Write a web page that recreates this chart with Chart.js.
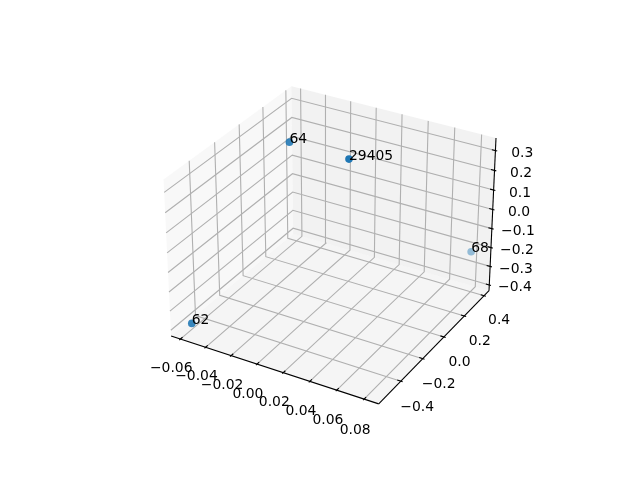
<!DOCTYPE html>
<html lang="en">
<head>
    <meta charset="UTF-8">
    <title>3D scatter</title>
    <script src="https://cdn.jsdelivr.net/npm/chart.js"></script>
    <style>
        html, body { margin: 0; padding: 0; background: #fff; }
        canvas { display: block; }
    </style>
</head>
<body>
    <canvas id="scatter3d" width="640" height="480"></canvas>
    <script>
        const pointLabels = ['62', '64', '29405', '68'];
        const pointX = [-0.0573, -0.0311, 0.0097, 0.0805];
        const pointY = [-0.528, 0.033, 0.0893, 0.384];
        const pointZ = [-0.38, 0.3206, 0.2811, -0.2076];

        const xTicks = [-0.06, -0.04, -0.02, 0.00, 0.02, 0.04, 0.06, 0.08];
        const yTicks = [-0.4, -0.2, 0.0, 0.2, 0.4];
        const zTicks = [-0.4, -0.3, -0.2, -0.1, 0.0, 0.1, 0.2, 0.3];
        const xDigits = 2, yDigits = 1, zDigits = 1;

        const xLimits = [-0.0674, 0.0906];
        const yLimits = [-0.595, 0.45];
        const zLimits = [-0.431, 0.3625];

        const FONT = '13.9px "DejaVu Sans"';
        const GRID = '#b0b0b0';
        const DIST = 10;

        // same camera as a default mplot3d axes: elev 30, azim -60
        const elev = 30 * Math.PI / 180, azim = -60 * Math.PI / 180;
        const w = [Math.cos(elev) * Math.cos(azim), Math.cos(elev) * Math.sin(azim), Math.sin(elev)];
        const u = [-w[1], w[0], 0].map(function (c) { return c / Math.hypot(w[0], w[1]); });
        const v = [
            w[1] * u[2] - w[2] * u[1],
            w[2] * u[0] - w[0] * u[2],
            w[0] * u[1] - w[1] * u[0]
        ];
        const boxFactor = 1.8294640721620434 * 25 / 24 / Math.hypot(4, 4, 3);
        const box = [4 * boxFactor, 4 * boxFactor, 3 * boxFactor];

        function dot(a, b) { return a[0] * b[0] + a[1] * b[1] + a[2] * b[2]; }

        function centered(x, y, z) {
            return [
                ((x - xLimits[0]) / (xLimits[1] - xLimits[0]) - 0.5) * box[0],
                ((y - yLimits[0]) / (yLimits[1] - yLimits[0]) - 0.5) * box[1],
                ((z - zLimits[0]) / (zLimits[1] - zLimits[0]) - 0.5) * box[2]
            ];
        }

        function depth(x, y, z) { return dot(centered(x, y, z), w); }

        // data value -> position on the flat x/y scales of the chart
        function project(x, y, z) {
            const p = centered(x, y, z);
            const d = DIST - dot(p, w);
            return {
                x: 143.2 + (dot(p, u) / d + 0.095) / 0.185 * 369.6,
                y: 52.8 + (dot(p, v) / d + 0.095) / 0.185 * 369.6
            };
        }

        const xLo = xLimits[0], xHi = xLimits[1], yLo = yLimits[0], yHi = yLimits[1], zLo = zLimits[0], zHi = zLimits[1];
        const xRange = xHi - xLo, yRange = yHi - yLo, zRange = zHi - zLo;

        var datasets = [];

        function addPane(corners, color) {
            var pts = corners.map(function (c) { return project(c[0], c[1], c[2]); });
            datasets.push({
                data: pts, showLine: true, fill: 'shape', backgroundColor: color,
                borderWidth: 0, borderColor: 'transparent', pointRadius: 0, order: 5
            });
        }

        function addLine(corners, color, order) {
            datasets.push({
                data: corners.map(function (c) { return project(c[0], c[1], c[2]); }),
                showLine: true, fill: false, borderColor: color, borderWidth: 1.1,
                pointRadius: 0, tension: 0, order: order
            });
        }

        addPane([[xLo, yLo, zLo], [xLo, yHi, zLo], [xLo, yHi, zHi], [xLo, yLo, zHi]], 'rgba(242,242,242,0.5)');
        addPane([[xLo, yHi, zLo], [xHi, yHi, zLo], [xHi, yHi, zHi], [xLo, yHi, zHi]], 'rgba(230,230,230,0.5)');
        addPane([[xLo, yLo, zLo], [xHi, yLo, zLo], [xHi, yHi, zLo], [xLo, yHi, zLo]], 'rgba(236,236,236,0.5)');

        xTicks.forEach(function (t) {
            addLine([[t, yLo, zLo], [t, yHi, zLo], [t, yHi, zHi]], GRID, 4);
            addLine([[t, yLo + yRange / 60, zLo], [t, yLo - yRange / 120, zLo]], '#000', 2);
        });
        yTicks.forEach(function (t) {
            addLine([[xLo, t, zHi], [xLo, t, zLo], [xHi, t, zLo]], GRID, 4);
            addLine([[xHi - xRange / 60, t, zLo], [xHi + xRange / 120, t, zLo]], '#000', 2);
        });
        zTicks.forEach(function (t) {
            addLine([[xLo, yLo, t], [xLo, yHi, t], [xHi, yHi, t]], GRID, 4);
            addLine([[xHi - xRange / 60, yHi, t], [xHi + xRange / 120, yHi, t]], '#000', 2);
        });

        addLine([[xLo, yLo, zLo], [xHi, yLo, zLo]], '#000', 3);
        addLine([[xHi, yLo, zLo], [xHi, yHi, zLo]], '#000', 3);
        addLine([[xHi, yHi, zLo], [xHi, yHi, zHi]], '#000', 3);

        // depth shading of the points, nearest is solid
        const depths = pointX.map(function (x, i) { return depth(x, pointY[i], pointZ[i]); });
        const depthMin = Math.min.apply(null, depths), depthMax = Math.max.apply(null, depths);
        const pointColors = depths.map(function (d) {
            var alpha = 0.45 + 0.55 * (d - depthMin) / (depthMax - depthMin);
            return 'rgba(31,119,180,' + alpha.toFixed(3) + ')';
        });

        datasets.push({
            data: pointX.map(function (x, i) { return project(x, pointY[i], pointZ[i]); }),
            backgroundColor: pointColors, borderWidth: 0, pointRadius: 3.8, order: 1
        });

        function tickText(t, digits) {
            return (t < 0 ? '\u2212' : '') + Math.abs(t).toFixed(digits);
        }

        const textPlugin = {
            id: 'textPlugin',
            afterDatasetsDraw: function (chart) {
                var ctx = chart.ctx, sx = chart.scales.x, sy = chart.scales.y;
                function put(text, p, dx, dy) {
                    ctx.fillText(text, sx.getPixelForValue(p.x) + dx, sy.getPixelForValue(p.y) + dy);
                }
                ctx.save();
                ctx.font = FONT;
                ctx.fillStyle = '#000';
                ctx.textAlign = 'center';
                ctx.textBaseline = 'middle';
                xTicks.forEach(function (t) {
                    put(tickText(t, xDigits), project(t, yLo - 0.1 * yRange, zLo - 0.1 * zRange), 3.5, 3);
                });
                yTicks.forEach(function (t) {
                    put(tickText(t, yDigits), project(xHi + 0.1 * xRange, t, zLo - 0.1 * zRange), -5, 4);
                });
                zTicks.forEach(function (t) {
                    put(tickText(t, zDigits), project(xHi + 0.1 * xRange, yHi + 0.1 * yRange, t), -5, 7);
                });
                ctx.textAlign = 'left';
                ctx.textBaseline = 'alphabetic';
                pointLabels.forEach(function (label, i) {
                    put(label, project(pointX[i], pointY[i], pointZ[i]), 0, 0.5);
                });
                ctx.restore();
            }
        };

        var ctx = document.getElementById('scatter3d').getContext('2d');
        var chart = new Chart(ctx, {
            type: 'scatter',
            data: { datasets: datasets },
            plugins: [textPlugin],
            options: {
                responsive: false,
                animation: false,
                layout: { padding: 0, autoPadding: false },
                plugins: { legend: { display: false }, tooltip: { enabled: false } },
                scales: {
                    x: { type: 'linear', min: 0, max: 640, display: false },
                    y: { type: 'linear', min: 0, max: 480, display: false }
                }
            }
        });
    </script>
</body>
</html>
